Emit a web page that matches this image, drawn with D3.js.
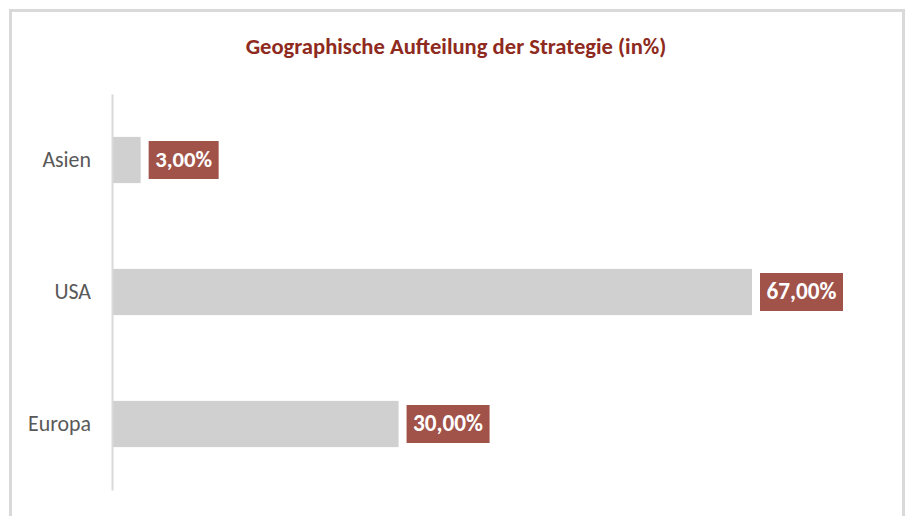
<!DOCTYPE html>
<html><head><meta charset="utf-8">
<script src="https://cdn.jsdelivr.net/npm/d3@7"></script>
<style>body{margin:0;background:#fff}svg{display:block}</style>
</head><body>
<script>
const categories = ["Asien", "USA", "Europa"];
const values = [3, 67, 30];
const valueLabels = ["3,00%", "67,00%", "30,00%"];
const title = "Geographische Aufteilung der Strategie (in%)";

const W = 909, H = 516;
const svg = d3.select("body").append("svg").attr("width", W).attr("height", H);
const font = "'Liberation Sans Narrow', Carlito, 'Open Sans', sans-serif";

// outer frame
svg.append("path").attr("d", `M10.5,${H+5}V10.5H903.5V${H+5}`)
  .attr("fill", "none").attr("stroke", "#d9d9d9").attr("stroke-width", 3);

const x = d3.scaleLinear().domain([0, 67]).range([112, 752]);
const y = d3.scaleBand().domain(categories).range([94, 490]).paddingInner(0.65).paddingOuter(0.325);

// title
const t = svg.append("text").attr("x", 456).attr("y", 54).attr("text-anchor", "middle")
  .attr("font-family", font).attr("font-weight", "bold").attr("font-size", 19)
  .attr("fill", "#8e2a20").text(title);
const tw = t.node().getComputedTextLength();
t.attr("font-size", 19 * 421 / tw);

// bars
svg.selectAll("rect.bar").data(categories).join("rect").attr("class", "bar")
  .attr("x", x(0)).attr("y", d => y(d))
  .attr("width", (d, i) => x(values[i]) - x(0)).attr("height", y.bandwidth())
  .attr("fill", "#d0d0d0");

// axis
const ax = svg.append("g").attr("transform", `translate(${x(0)},0)`)
  .call(d3.axisLeft(y).tickSize(0).tickPadding(21));
ax.select(".domain").attr("stroke", "#d9d9d9").attr("stroke-width", 2);
ax.selectAll("text").attr("font-family", font).attr("font-size", 20).attr("fill", "#595959");
// fit "Europa" width to reference (~63px)
const eu = ax.selectAll("text").filter(d => d === "Europa").node();
const ew = eu.getComputedTextLength();
ax.selectAll("text").attr("font-size", 20 * 63 / ew);

// value labels
const lg = svg.selectAll("g.lbl").data(categories).join("g").attr("class", "lbl");
lg.each(function(d, i) {
  const g = d3.select(this);
  const bx = x(values[i]) + 8;
  const cy = y(d) + y.bandwidth() / 2;
  const txt = g.append("text").attr("font-family", font).attr("font-weight", "bold")
    .attr("font-size", 19).attr("fill", "#fff").text(valueLabels[i]);
  const target = valueLabels[i].length === 5 ? 57 : 70;
  const w0 = txt.node().getComputedTextLength();
  txt.attr("font-size", 19 * target / w0);
  const bw = target + 13;
  g.insert("rect", "text").attr("x", bx).attr("y", cy - 19).attr("width", bw).attr("height", 38)
    .attr("fill", "#a1534a");
  txt.attr("x", bx + bw / 2).attr("y", cy + 7).attr("text-anchor", "middle");
});
</script>
</body></html>
